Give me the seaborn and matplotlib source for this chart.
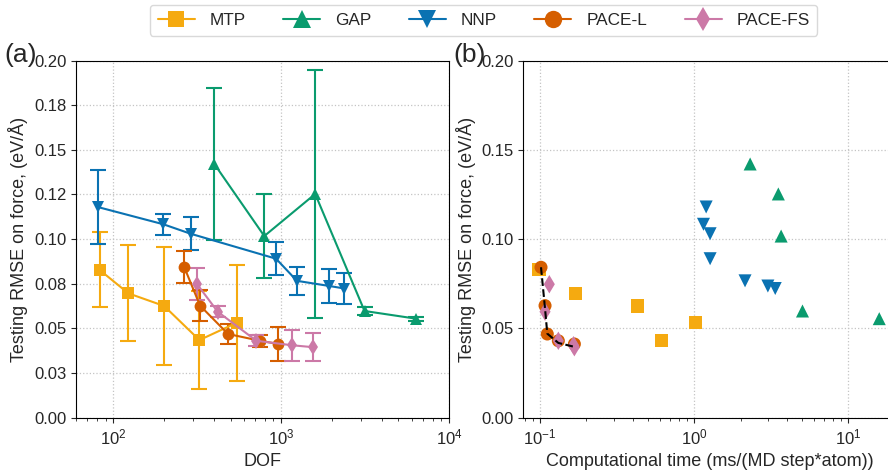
import numpy as np
import pandas as pd
import matplotlib
matplotlib.use("Agg")
import matplotlib.pyplot as plt
from matplotlib.lines import Line2D
import seaborn as sns

# ---- data -------------------------------------------------------------
models = ["MTP", "GAP", "NNP", "PACE-L", "PACE-FS"]

mtp_dof = [83, 123, 201, 326, 544]
mtp_rmse = [0.0827, 0.0696, 0.0625, 0.0434, 0.0531]
mtp_err = [0.021, 0.027, 0.033, 0.0274, 0.0325]
mtp_time = [0.0985, 0.170, 0.430, 0.617, 1.015]

gap_dof = [400, 794, 1596, 3140, 6355]
gap_rmse = [0.1421, 0.1017, 0.1253, 0.0597, 0.0554]
gap_err = [0.0425, 0.0233, 0.0695, 0.0025, 0.0012]
gap_time = [2.31, 3.67, 3.52, 5.05, 15.9]

nnp_dof = [80.7, 199, 289, 933, 1242, 1941, 2383]
nnp_rmse = [0.1180, 0.1083, 0.1030, 0.0890, 0.0766, 0.0737, 0.0723]
nnp_err = [0.021, 0.006, 0.0092, 0.0093, 0.0079, 0.0094, 0.0089]
nnp_time = [1.197, 1.15, 1.27, 1.27, 2.14, 3.01, 3.36]

pacel_dof = [265, 329, 483, 750, 964]
pacel_rmse = [0.0842, 0.0627, 0.0468, 0.0430, 0.0412]
pacel_err = [0.0090, 0.0088, 0.0055, 0.0033, 0.0098]
pacel_time = [0.1015, 0.1078, 0.1115, 0.1315, 0.1671]

pacefs_dof = [316, 419, 712, 1160, 1555]
pacefs_rmse = [0.0747, 0.0593, 0.0430, 0.0405, 0.0394]
pacefs_err = [0.0090, 0.0030, 0.0030, 0.0088, 0.0080]
pacefs_time = [0.1149, 0.1078, 0.1315, 0.1650, 0.1671]

# lowest-error front of the PACE models vs. cost
front_time = [0.1015, 0.1078, 0.1115, 0.1315, 0.1671]
front_rmse = [0.0842, 0.0610, 0.0470, 0.0418, 0.0396]

left_yticks = [0.0, 0.025, 0.05, 0.075, 0.1, 0.125, 0.15, 0.175, 0.2]
left_yticklabels = ["0.00", "0.03", "0.05", "0.08", "0.10", "0.12", "0.15", "0.18", "0.20"]
right_yticks = [0.0, 0.05, 0.1, 0.15, 0.2]
right_yticklabels = ["0.00", "0.05", "0.10", "0.15", "0.20"]

# ---- styling ----------------------------------------------------------
colors = {"MTP": "#F5AA10", "GAP": "#0A9B6E", "NNP": "#0A72B2",
          "PACE-L": "#D55E00", "PACE-FS": "#CC79A7"}
markers = {"MTP": "s", "GAP": "^", "NNP": "v", "PACE-L": "o", "PACE-FS": "d"}
msizes = {"MTP": 9, "GAP": 9, "NNP": 9, "PACE-L": 8.5, "PACE-FS": 8.5}
leg_msizes = {"MTP": 11, "GAP": 12.5, "NNP": 12.5, "PACE-L": 12.5, "PACE-FS": 12.2}

sns.set_style("ticks")
plt.rcParams["font.family"] = ["Liberation Sans", "DejaVu Sans"]
plt.rcParams["font.size"] = 12
plt.rcParams["axes.linewidth"] = 0.8

series = {
    "MTP": (mtp_dof, mtp_rmse, mtp_err, mtp_time),
    "GAP": (gap_dof, gap_rmse, gap_err, gap_time),
    "NNP": (nnp_dof, nnp_rmse, nnp_err, nnp_time),
    "PACE-L": (pacel_dof, pacel_rmse, pacel_err, pacel_time),
    "PACE-FS": (pacefs_dof, pacefs_rmse, pacefs_err, pacefs_time),
}

rows = []
for m in models:
    dof, rmse, err, t = series[m]
    for d, r, e, tt in zip(dof, rmse, err, t):
        rows.append({"model": m, "dof": d, "rmse": r, "err": e, "time": tt})
df = pd.DataFrame(rows)

fig = plt.figure(figsize=(8.88, 4.70), dpi=100)
ax1 = fig.add_axes([0.0856, 0.1117, 0.4200, 0.7592])
ax2 = fig.add_axes([0.5893, 0.1117, 0.4200, 0.7592])

grid_kw = dict(color="#c4c4c4", linestyle=":", linewidth=0.9)

# (a) error vs. degrees of freedom
for m in models:
    sub = df[df["model"] == m]
    ax1.errorbar(sub["dof"], sub["rmse"], yerr=sub["err"], fmt="none",
                 ecolor=colors[m], elinewidth=1.5, capsize=6, capthick=1.5,
                 zorder=3)
    sns.lineplot(data=sub, x="dof", y="rmse", ax=ax1, color=colors[m],
                 lw=1.5, sort=False, estimator=None, legend=False,
                 marker=markers[m], markersize=msizes[m], markeredgewidth=0,
                 zorder=4)

ax1.set_xscale("log")
ax1.set_xlim(60, 1e4)
ax1.set_ylim(0, 0.2)
ax1.set_yticks(left_yticks)
ax1.set_yticklabels(left_yticklabels)
ax1.grid(True, which="major", **grid_kw)
ax1.set_axisbelow(True)
ax1.set_xlabel("DOF", fontsize=13)
ax1.set_ylabel("Testing RMSE on force, (eV/Å)", fontsize=13)

# (b) error vs. computational cost
sns.scatterplot(data=df, x="time", y="rmse", hue="model", style="model",
                palette=colors, markers=markers, s=88, linewidth=0,
                legend=False, ax=ax2, zorder=4)
ax2.plot(front_time, front_rmse, color="black", ls="--", lw=1.5, zorder=5)

ax2.set_xscale("log")
ax2.set_xlim(0.0779, 20.5)
ax2.set_ylim(0, 0.2)
ax2.set_yticks(right_yticks)
ax2.set_yticklabels(right_yticklabels)
ax2.grid(True, which="major", **grid_kw)
ax2.set_axisbelow(True)
ax2.set_xlabel("Computational time (ms/(MD step*atom))", fontsize=13)
ax2.set_ylabel("Testing RMSE on force, (eV/Å)", fontsize=13)

for ax in (ax1, ax2):
    ax.tick_params(labelsize=12, length=3.5, width=0.8, direction="out")
    ax.tick_params(which="minor", length=2, width=0.6, direction="out")
    for sp in ax.spines.values():
        sp.set_color("black")
        sp.set_linewidth(0.8)

fig.text(0.005, 0.884, "(a)", fontsize=19, va="center", ha="left")
fig.text(0.511, 0.884, "(b)", fontsize=19, va="center", ha="left")

handles = [Line2D([0], [0], color=colors[m], marker=markers[m],
                  ms=leg_msizes[m], mew=0, lw=1.5) for m in models]
fig.legend(handles, models, loc="upper left",
           bbox_to_anchor=(150 / 888, 1 - 5 / 470), borderaxespad=0,
           ncol=5, fontsize=12.4, handlelength=2.15, handletextpad=0.86,
           columnspacing=2.18, borderpad=0.45, frameon=True,
           edgecolor="#d0d0d0")

fig.savefig("out.png", dpi=100)
